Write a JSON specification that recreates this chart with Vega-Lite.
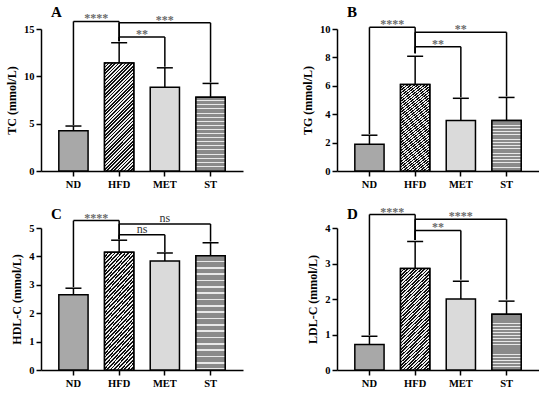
{
  "$schema": "https://vega.github.io/schema/vega-lite/v6.json",
  "padding": {"left": 5, "top": 5, "right": 0, "bottom": 0},
  "datasets": {
    "all": [
      {"panel": "A", "type": "bar", "group": "ND", "mean": 4.25, "err": 4.75},
      {"panel": "A", "type": "bar", "group": "HFD", "mean": 11.4, "err": 13.55},
      {"panel": "A", "type": "bar", "group": "MET", "mean": 8.85, "err": 10.9},
      {"panel": "A", "type": "bar", "group": "ST", "mean": 7.8, "err": 9.25},
      {"panel": "B", "type": "bar", "group": "ND", "mean": 1.88, "err": 2.52},
      {"panel": "B", "type": "bar", "group": "HFD", "mean": 6.1, "err": 8.08},
      {"panel": "B", "type": "bar", "group": "MET", "mean": 3.55, "err": 5.12},
      {"panel": "B", "type": "bar", "group": "ST", "mean": 3.55, "err": 5.18},
      {"panel": "C", "type": "bar", "group": "ND", "mean": 2.65, "err": 2.88},
      {"panel": "C", "type": "bar", "group": "HFD", "mean": 4.15, "err": 4.57},
      {"panel": "C", "type": "bar", "group": "MET", "mean": 3.84, "err": 4.12},
      {"panel": "C", "type": "bar", "group": "ST", "mean": 4.02, "err": 4.48},
      {"panel": "D", "type": "bar", "group": "ND", "mean": 0.72, "err": 0.95},
      {"panel": "D", "type": "bar", "group": "HFD", "mean": 2.86, "err": 3.62},
      {"panel": "D", "type": "bar", "group": "MET", "mean": 2.0, "err": 2.5},
      {"panel": "D", "type": "bar", "group": "ST", "mean": 1.57, "err": 1.94},
      {"panel": "A", "type": "br", "a": "ND", "b": "HFD", "mid": "ND", "pos": "gap", "h": 15.8, "ya": 4.85, "yb": 13.7, "label": "****", "kind": "star"},
      {"panel": "A", "type": "br", "a": "HFD", "b": "MET", "mid": "HFD", "pos": "gap", "h": 14.15, "ya": 13.7, "yb": 11.0, "label": "**", "kind": "star"},
      {"panel": "A", "type": "br", "a": "HFD", "b": "ST", "mid": "MET", "pos": "center", "h": 15.65, "ya": 13.7, "yb": 9.35, "label": "***", "kind": "star"},
      {"panel": "B", "type": "br", "a": "ND", "b": "HFD", "mid": "ND", "pos": "gap", "h": 10.12, "ya": 2.6, "yb": 8.3, "label": "****", "kind": "star"},
      {"panel": "B", "type": "br", "a": "HFD", "b": "MET", "mid": "HFD", "pos": "gap", "h": 8.75, "ya": 8.3, "yb": 5.2, "label": "**", "kind": "star"},
      {"panel": "B", "type": "br", "a": "HFD", "b": "ST", "mid": "MET", "pos": "center", "h": 9.77, "ya": 8.3, "yb": 5.25, "label": "**", "kind": "star"},
      {"panel": "C", "type": "br", "a": "ND", "b": "HFD", "mid": "ND", "pos": "gap", "h": 5.26, "ya": 2.92, "yb": 4.6, "label": "****", "kind": "star"},
      {"panel": "C", "type": "br", "a": "HFD", "b": "MET", "mid": "HFD", "pos": "gap", "h": 4.76, "ya": 4.6, "yb": 4.15, "label": "ns", "kind": "ns"},
      {"panel": "C", "type": "br", "a": "HFD", "b": "ST", "mid": "MET", "pos": "center", "h": 5.14, "ya": 4.6, "yb": 4.52, "label": "ns", "kind": "ns"},
      {"panel": "D", "type": "br", "a": "ND", "b": "HFD", "mid": "ND", "pos": "gap", "h": 4.38, "ya": 0.98, "yb": 3.66, "label": "****", "kind": "star"},
      {"panel": "D", "type": "br", "a": "HFD", "b": "MET", "mid": "HFD", "pos": "gap", "h": 3.93, "ya": 3.66, "yb": 2.54, "label": "**", "kind": "star"},
      {"panel": "D", "type": "br", "a": "HFD", "b": "ST", "mid": "MET", "pos": "center", "h": 4.25, "ya": 3.66, "yb": 1.98, "label": "****", "kind": "star"}
    ]
  },
  "columns": 2,
  "bounds": "flush",
  "spacing": {"row": 57, "column": 94},
  "concat": [
    {
      "width": 202, "height": 142,
      "title": {"text": "A", "dy": 10},
      "data": {"name": "all"},
      "transform": [{"filter": "datum.panel == 'A'"}],
      "layer": [
        {"transform": [{"filter": "datum.type == 'bar'"}], "mark": {"type": "bar", "stroke": "black", "strokeWidth": 1.5},
         "encoding": {"x": {"field": "group", "type": "nominal", "scale": {"domain": ["ND", "HFD", "MET", "ST"]}, "sort": null, "title": null},
                      "y": {"field": "mean", "type": "quantitative", "scale": {"domain": [0, 15], "nice": false}, "axis": {"values": [0, 5, 10, 15]}, "title": "TC (mmol/L)"},
                      "fill": {"field": "group", "type": "nominal", "scale": {"domain": ["ND", "HFD", "MET", "ST"], "range": ["#a8a8a8", "#7c7c7c", "#dadada", "#a0a0a0"]}, "legend": null}}},
        {"transform": [{"filter": "datum.type == 'bar' && datum.group == 'HFD'"}], "mark": {"type": "bar", "stroke": "black", "strokeWidth": 1.5},
         "encoding": {"x": {"field": "group", "type": "nominal", "title": null}, "y": {"field": "mean", "type": "quantitative", "axis": {"values": [0, 5, 10, 15]}, "title": "TC (mmol/L)"}}},
        {"transform": [{"filter": "datum.type == 'bar' && datum.group == 'ST'"}], "mark": {"type": "rect", "stroke": "black", "strokeWidth": 1.5},
         "encoding": {"x": {"field": "group", "type": "nominal", "title": null}, "y": {"field": "mean", "type": "quantitative", "axis": {"values": [0, 5, 10, 15]}, "title": "TC (mmol/L)"}, "y2": {"datum": 0}}},
        {"transform": [{"filter": "datum.type == 'bar'"}], "mark": {"type": "rule", "color": "black", "strokeWidth": 1.5},
         "encoding": {"x": {"field": "group", "type": "nominal", "title": null}, "y": {"field": "mean", "type": "quantitative", "axis": {"values": [0, 5, 10, 15]}, "title": "TC (mmol/L)"}, "y2": {"field": "err"}}},
        {"transform": [{"filter": "datum.type == 'bar'"}], "mark": {"type": "tick", "color": "black", "thickness": 1.5, "size": 16, "opacity": 1},
         "encoding": {"x": {"field": "group", "type": "nominal", "title": null}, "y": {"field": "err", "type": "quantitative", "axis": {"values": [0, 5, 10, 15]}, "title": "TC (mmol/L)"}}},
        {"transform": [{"filter": "datum.type == 'br'"}], "mark": {"type": "rule", "color": "black", "strokeWidth": 1.5},
         "encoding": {"x": {"field": "a", "type": "nominal", "title": null}, "y": {"field": "ya", "type": "quantitative", "axis": {"values": [0, 5, 10, 15]}, "title": "TC (mmol/L)"}, "y2": {"field": "h"}}},
        {"transform": [{"filter": "datum.type == 'br'"}], "mark": {"type": "rule", "color": "black", "strokeWidth": 1.5},
         "encoding": {"x": {"field": "b", "type": "nominal", "title": null}, "y": {"field": "yb", "type": "quantitative", "axis": {"values": [0, 5, 10, 15]}, "title": "TC (mmol/L)"}, "y2": {"field": "h"}}},
        {"transform": [{"filter": "datum.type == 'br'"}], "mark": {"type": "rule", "color": "black", "strokeWidth": 1.5},
         "encoding": {"x": {"field": "a", "type": "nominal", "title": null}, "x2": {"field": "b"}, "y": {"field": "h", "type": "quantitative", "axis": {"values": [0, 5, 10, 15]}, "title": "TC (mmol/L)"}}},
        {"transform": [{"filter": "datum.type == 'br' && datum.pos == 'gap' && datum.kind == 'star'"}], "mark": {"type": "text", "font": "Liberation Serif", "fontSize": 12, "fontWeight": "bold", "fill": "#6a6a6a", "baseline": "alphabetic", "dy": 1},
         "encoding": {"x": {"field": "mid", "type": "nominal", "bandPosition": 1.28125, "title": null}, "y": {"field": "h", "type": "quantitative", "axis": {"values": [0, 5, 10, 15]}, "title": "TC (mmol/L)"}, "text": {"field": "label"}}},
        {"transform": [{"filter": "datum.type == 'br' && datum.pos == 'center' && datum.kind == 'star'"}], "mark": {"type": "text", "font": "Liberation Serif", "fontSize": 12, "fontWeight": "bold", "fill": "#6a6a6a", "baseline": "alphabetic", "dy": 1},
         "encoding": {"x": {"field": "mid", "type": "nominal", "bandPosition": 0.5, "title": null}, "y": {"field": "h", "type": "quantitative", "axis": {"values": [0, 5, 10, 15]}, "title": "TC (mmol/L)"}, "text": {"field": "label"}}}
      ]
    },
    {
      "width": 202, "height": 142,
      "title": {"text": "B", "dy": 4},
      "data": {"name": "all"},
      "transform": [{"filter": "datum.panel == 'B'"}],
      "layer": [
        {"transform": [{"filter": "datum.type == 'bar'"}], "mark": {"type": "bar", "stroke": "black", "strokeWidth": 1.5},
         "encoding": {"x": {"field": "group", "type": "nominal", "scale": {"domain": ["ND", "HFD", "MET", "ST"]}, "sort": null, "title": null},
                      "y": {"field": "mean", "type": "quantitative", "scale": {"domain": [0, 10], "nice": false}, "axis": {"values": [0, 2, 4, 6, 8, 10]}, "title": "TG (mmol/L)"},
                      "fill": {"field": "group", "type": "nominal", "scale": {"domain": ["ND", "HFD", "MET", "ST"], "range": ["#a8a8a8", "#7c7c7c", "#dadada", "#a0a0a0"]}, "legend": null}}},
        {"transform": [{"filter": "datum.type == 'bar' && datum.group == 'HFD'"}], "mark": {"type": "bar", "stroke": "black", "strokeWidth": 1.5},
         "encoding": {"x": {"field": "group", "type": "nominal", "title": null}, "y": {"field": "mean", "type": "quantitative", "axis": {"values": [0, 2, 4, 6, 8, 10]}, "title": "TG (mmol/L)"}}},
        {"transform": [{"filter": "datum.type == 'bar' && datum.group == 'ST'"}], "mark": {"type": "rect", "stroke": "black", "strokeWidth": 1.5},
         "encoding": {"x": {"field": "group", "type": "nominal", "title": null}, "y": {"field": "mean", "type": "quantitative", "axis": {"values": [0, 2, 4, 6, 8, 10]}, "title": "TG (mmol/L)"}, "y2": {"datum": 0}}},
        {"transform": [{"filter": "datum.type == 'bar'"}], "mark": {"type": "rule", "color": "black", "strokeWidth": 1.5},
         "encoding": {"x": {"field": "group", "type": "nominal", "title": null}, "y": {"field": "mean", "type": "quantitative", "axis": {"values": [0, 2, 4, 6, 8, 10]}, "title": "TG (mmol/L)"}, "y2": {"field": "err"}}},
        {"transform": [{"filter": "datum.type == 'bar'"}], "mark": {"type": "tick", "color": "black", "thickness": 1.5, "size": 16, "opacity": 1},
         "encoding": {"x": {"field": "group", "type": "nominal", "title": null}, "y": {"field": "err", "type": "quantitative", "axis": {"values": [0, 2, 4, 6, 8, 10]}, "title": "TG (mmol/L)"}}},
        {"transform": [{"filter": "datum.type == 'br'"}], "mark": {"type": "rule", "color": "black", "strokeWidth": 1.5},
         "encoding": {"x": {"field": "a", "type": "nominal", "title": null}, "y": {"field": "ya", "type": "quantitative", "axis": {"values": [0, 2, 4, 6, 8, 10]}, "title": "TG (mmol/L)"}, "y2": {"field": "h"}}},
        {"transform": [{"filter": "datum.type == 'br'"}], "mark": {"type": "rule", "color": "black", "strokeWidth": 1.5},
         "encoding": {"x": {"field": "b", "type": "nominal", "title": null}, "y": {"field": "yb", "type": "quantitative", "axis": {"values": [0, 2, 4, 6, 8, 10]}, "title": "TG (mmol/L)"}, "y2": {"field": "h"}}},
        {"transform": [{"filter": "datum.type == 'br'"}], "mark": {"type": "rule", "color": "black", "strokeWidth": 1.5},
         "encoding": {"x": {"field": "a", "type": "nominal", "title": null}, "x2": {"field": "b"}, "y": {"field": "h", "type": "quantitative", "axis": {"values": [0, 2, 4, 6, 8, 10]}, "title": "TG (mmol/L)"}}},
        {"transform": [{"filter": "datum.type == 'br' && datum.pos == 'gap' && datum.kind == 'star'"}], "mark": {"type": "text", "font": "Liberation Serif", "fontSize": 12, "fontWeight": "bold", "fill": "#6a6a6a", "baseline": "alphabetic", "dy": 1},
         "encoding": {"x": {"field": "mid", "type": "nominal", "bandPosition": 1.28125, "title": null}, "y": {"field": "h", "type": "quantitative", "axis": {"values": [0, 2, 4, 6, 8, 10]}, "title": "TG (mmol/L)"}, "text": {"field": "label"}}},
        {"transform": [{"filter": "datum.type == 'br' && datum.pos == 'center' && datum.kind == 'star'"}], "mark": {"type": "text", "font": "Liberation Serif", "fontSize": 12, "fontWeight": "bold", "fill": "#6a6a6a", "baseline": "alphabetic", "dy": 1},
         "encoding": {"x": {"field": "mid", "type": "nominal", "bandPosition": 0.5, "title": null}, "y": {"field": "h", "type": "quantitative", "axis": {"values": [0, 2, 4, 6, 8, 10]}, "title": "TG (mmol/L)"}, "text": {"field": "label"}}}
      ]
    },
    {
      "width": 202, "height": 142,
      "title": {"text": "C", "dy": 12},
      "data": {"name": "all"},
      "transform": [{"filter": "datum.panel == 'C'"}],
      "layer": [
        {"transform": [{"filter": "datum.type == 'bar'"}], "mark": {"type": "bar", "stroke": "black", "strokeWidth": 1.5},
         "encoding": {"x": {"field": "group", "type": "nominal", "scale": {"domain": ["ND", "HFD", "MET", "ST"]}, "sort": null, "title": null},
                      "y": {"field": "mean", "type": "quantitative", "scale": {"domain": [0, 5], "nice": false}, "axis": {"values": [0, 1, 2, 3, 4, 5]}, "title": "HDL-C (mmol/L)"},
                      "fill": {"field": "group", "type": "nominal", "scale": {"domain": ["ND", "HFD", "MET", "ST"], "range": ["#a8a8a8", "#7c7c7c", "#dadada", "#a0a0a0"]}, "legend": null}}},
        {"transform": [{"filter": "datum.type == 'bar' && datum.group == 'HFD'"}], "mark": {"type": "bar", "stroke": "black", "strokeWidth": 1.5},
         "encoding": {"x": {"field": "group", "type": "nominal", "title": null}, "y": {"field": "mean", "type": "quantitative", "axis": {"values": [0, 1, 2, 3, 4, 5]}, "title": "HDL-C (mmol/L)"}}},
        {"transform": [{"filter": "datum.type == 'bar' && datum.group == 'ST'"}], "mark": {"type": "rect", "stroke": "black", "strokeWidth": 1.5},
         "encoding": {"x": {"field": "group", "type": "nominal", "title": null}, "y": {"field": "mean", "type": "quantitative", "axis": {"values": [0, 1, 2, 3, 4, 5]}, "title": "HDL-C (mmol/L)"}, "y2": {"datum": 0}}},
        {"transform": [{"filter": "datum.type == 'bar'"}], "mark": {"type": "rule", "color": "black", "strokeWidth": 1.5},
         "encoding": {"x": {"field": "group", "type": "nominal", "title": null}, "y": {"field": "mean", "type": "quantitative", "axis": {"values": [0, 1, 2, 3, 4, 5]}, "title": "HDL-C (mmol/L)"}, "y2": {"field": "err"}}},
        {"transform": [{"filter": "datum.type == 'bar'"}], "mark": {"type": "tick", "color": "black", "thickness": 1.5, "size": 16, "opacity": 1},
         "encoding": {"x": {"field": "group", "type": "nominal", "title": null}, "y": {"field": "err", "type": "quantitative", "axis": {"values": [0, 1, 2, 3, 4, 5]}, "title": "HDL-C (mmol/L)"}}},
        {"transform": [{"filter": "datum.type == 'br'"}], "mark": {"type": "rule", "color": "black", "strokeWidth": 1.5},
         "encoding": {"x": {"field": "a", "type": "nominal", "title": null}, "y": {"field": "ya", "type": "quantitative", "axis": {"values": [0, 1, 2, 3, 4, 5]}, "title": "HDL-C (mmol/L)"}, "y2": {"field": "h"}}},
        {"transform": [{"filter": "datum.type == 'br'"}], "mark": {"type": "rule", "color": "black", "strokeWidth": 1.5},
         "encoding": {"x": {"field": "b", "type": "nominal", "title": null}, "y": {"field": "yb", "type": "quantitative", "axis": {"values": [0, 1, 2, 3, 4, 5]}, "title": "HDL-C (mmol/L)"}, "y2": {"field": "h"}}},
        {"transform": [{"filter": "datum.type == 'br'"}], "mark": {"type": "rule", "color": "black", "strokeWidth": 1.5},
         "encoding": {"x": {"field": "a", "type": "nominal", "title": null}, "x2": {"field": "b"}, "y": {"field": "h", "type": "quantitative", "axis": {"values": [0, 1, 2, 3, 4, 5]}, "title": "HDL-C (mmol/L)"}}},
        {"transform": [{"filter": "datum.type == 'br' && datum.pos == 'gap' && datum.kind == 'star'"}], "mark": {"type": "text", "font": "Liberation Serif", "fontSize": 12, "fontWeight": "bold", "fill": "#6a6a6a", "baseline": "alphabetic", "dy": 1},
         "encoding": {"x": {"field": "mid", "type": "nominal", "bandPosition": 1.28125, "title": null}, "y": {"field": "h", "type": "quantitative", "axis": {"values": [0, 1, 2, 3, 4, 5]}, "title": "HDL-C (mmol/L)"}, "text": {"field": "label"}}},
        {"transform": [{"filter": "datum.type == 'br' && datum.pos == 'gap' && datum.kind == 'ns'"}], "mark": {"type": "text", "font": "Liberation Serif", "fontSize": 12, "fill": "#333333", "baseline": "alphabetic", "dy": -2},
         "encoding": {"x": {"field": "mid", "type": "nominal", "bandPosition": 1.28125, "title": null}, "y": {"field": "h", "type": "quantitative", "axis": {"values": [0, 1, 2, 3, 4, 5]}, "title": "HDL-C (mmol/L)"}, "text": {"field": "label"}}},
        {"transform": [{"filter": "datum.type == 'br' && datum.pos == 'center' && datum.kind == 'ns'"}], "mark": {"type": "text", "font": "Liberation Serif", "fontSize": 12, "fill": "#333333", "baseline": "alphabetic", "dy": -2},
         "encoding": {"x": {"field": "mid", "type": "nominal", "bandPosition": 0.5, "title": null}, "y": {"field": "h", "type": "quantitative", "axis": {"values": [0, 1, 2, 3, 4, 5]}, "title": "HDL-C (mmol/L)"}, "text": {"field": "label"}}}
      ]
    },
    {
      "width": 202, "height": 142,
      "title": {"text": "D", "dy": 18},
      "data": {"name": "all"},
      "transform": [{"filter": "datum.panel == 'D'"}],
      "layer": [
        {"transform": [{"filter": "datum.type == 'bar'"}], "mark": {"type": "bar", "stroke": "black", "strokeWidth": 1.5},
         "encoding": {"x": {"field": "group", "type": "nominal", "scale": {"domain": ["ND", "HFD", "MET", "ST"]}, "sort": null, "title": null},
                      "y": {"field": "mean", "type": "quantitative", "scale": {"domain": [0, 4], "nice": false}, "axis": {"values": [0, 1, 2, 3, 4]}, "title": "LDL-C (mmol/L)"},
                      "fill": {"field": "group", "type": "nominal", "scale": {"domain": ["ND", "HFD", "MET", "ST"], "range": ["#a8a8a8", "#7c7c7c", "#dadada", "#a0a0a0"]}, "legend": null}}},
        {"transform": [{"filter": "datum.type == 'bar' && datum.group == 'HFD'"}], "mark": {"type": "bar", "stroke": "black", "strokeWidth": 1.5},
         "encoding": {"x": {"field": "group", "type": "nominal", "title": null}, "y": {"field": "mean", "type": "quantitative", "axis": {"values": [0, 1, 2, 3, 4]}, "title": "LDL-C (mmol/L)"}}},
        {"transform": [{"filter": "datum.type == 'bar' && datum.group == 'ST'"}], "mark": {"type": "rect", "stroke": "black", "strokeWidth": 1.5},
         "encoding": {"x": {"field": "group", "type": "nominal", "title": null}, "y": {"field": "mean", "type": "quantitative", "axis": {"values": [0, 1, 2, 3, 4]}, "title": "LDL-C (mmol/L)"}, "y2": {"datum": 0}}},
        {"transform": [{"filter": "datum.type == 'bar'"}], "mark": {"type": "rule", "color": "black", "strokeWidth": 1.5},
         "encoding": {"x": {"field": "group", "type": "nominal", "title": null}, "y": {"field": "mean", "type": "quantitative", "axis": {"values": [0, 1, 2, 3, 4]}, "title": "LDL-C (mmol/L)"}, "y2": {"field": "err"}}},
        {"transform": [{"filter": "datum.type == 'bar'"}], "mark": {"type": "tick", "color": "black", "thickness": 1.5, "size": 16, "opacity": 1},
         "encoding": {"x": {"field": "group", "type": "nominal", "title": null}, "y": {"field": "err", "type": "quantitative", "axis": {"values": [0, 1, 2, 3, 4]}, "title": "LDL-C (mmol/L)"}}},
        {"transform": [{"filter": "datum.type == 'br'"}], "mark": {"type": "rule", "color": "black", "strokeWidth": 1.5},
         "encoding": {"x": {"field": "a", "type": "nominal", "title": null}, "y": {"field": "ya", "type": "quantitative", "axis": {"values": [0, 1, 2, 3, 4]}, "title": "LDL-C (mmol/L)"}, "y2": {"field": "h"}}},
        {"transform": [{"filter": "datum.type == 'br'"}], "mark": {"type": "rule", "color": "black", "strokeWidth": 1.5},
         "encoding": {"x": {"field": "b", "type": "nominal", "title": null}, "y": {"field": "yb", "type": "quantitative", "axis": {"values": [0, 1, 2, 3, 4]}, "title": "LDL-C (mmol/L)"}, "y2": {"field": "h"}}},
        {"transform": [{"filter": "datum.type == 'br'"}], "mark": {"type": "rule", "color": "black", "strokeWidth": 1.5},
         "encoding": {"x": {"field": "a", "type": "nominal", "title": null}, "x2": {"field": "b"}, "y": {"field": "h", "type": "quantitative", "axis": {"values": [0, 1, 2, 3, 4]}, "title": "LDL-C (mmol/L)"}}},
        {"transform": [{"filter": "datum.type == 'br' && datum.pos == 'gap' && datum.kind == 'star'"}], "mark": {"type": "text", "font": "Liberation Serif", "fontSize": 12, "fontWeight": "bold", "fill": "#6a6a6a", "baseline": "alphabetic", "dy": 1},
         "encoding": {"x": {"field": "mid", "type": "nominal", "bandPosition": 1.28125, "title": null}, "y": {"field": "h", "type": "quantitative", "axis": {"values": [0, 1, 2, 3, 4]}, "title": "LDL-C (mmol/L)"}, "text": {"field": "label"}}},
        {"transform": [{"filter": "datum.type == 'br' && datum.pos == 'center' && datum.kind == 'star'"}], "mark": {"type": "text", "font": "Liberation Serif", "fontSize": 12, "fontWeight": "bold", "fill": "#6a6a6a", "baseline": "alphabetic", "dy": 1},
         "encoding": {"x": {"field": "mid", "type": "nominal", "bandPosition": 0.5, "title": null}, "y": {"field": "h", "type": "quantitative", "axis": {"values": [0, 1, 2, 3, 4]}, "title": "LDL-C (mmol/L)"}, "text": {"field": "label"}}}
      ]
    }
  ],
  "config": {
    "view": {"stroke": null},
    "font": "Liberation Serif",
    "scale": {"bandPaddingInner": 0.36, "bandPaddingOuter": 0.39},
    "axis": {"grid": false, "domainColor": "black", "domainWidth": 1.5, "tickColor": "black", "tickWidth": 1.5, "tickSize": 5,
             "labelFont": "Liberation Serif", "labelFontWeight": "bold", "labelFontSize": 10.5, "labelColor": "black", "labelPadding": 2,
             "titleFont": "Liberation Serif", "titleFontWeight": "bold", "titleFontSize": 12, "titleColor": "black", "titlePadding": 5},
    "axisX": {"labelAngle": 0, "labelPadding": 3},
    "axisY": {"labelOverlap": false},
    "title": {"anchor": "start", "frame": "group", "font": "Liberation Serif", "fontSize": 15, "fontWeight": "bold", "color": "black", "dx": 10, "offset": 2},
    "rect": {
      "fill": {
        "gradient": "linear", "x1": 0, "y1": 0, "x2": 0, "y2": 1,
        "stops": [
          {"offset": 0, "color": "#8a8a8a"}, {"offset": 0.04167, "color": "#8a8a8a"}, {"offset": 0.04167, "color": "#e8e8e8"}, {"offset": 0.05556, "color": "#e8e8e8"},
          {"offset": 0.05556, "color": "#8a8a8a"}, {"offset": 0.09722, "color": "#8a8a8a"}, {"offset": 0.09722, "color": "#e8e8e8"}, {"offset": 0.11111, "color": "#e8e8e8"},
          {"offset": 0.11111, "color": "#8a8a8a"}, {"offset": 0.15278, "color": "#8a8a8a"}, {"offset": 0.15278, "color": "#e8e8e8"}, {"offset": 0.16667, "color": "#e8e8e8"},
          {"offset": 0.16667, "color": "#8a8a8a"}, {"offset": 0.20833, "color": "#8a8a8a"}, {"offset": 0.20833, "color": "#e8e8e8"}, {"offset": 0.22222, "color": "#e8e8e8"},
          {"offset": 0.22222, "color": "#8a8a8a"}, {"offset": 0.26389, "color": "#8a8a8a"}, {"offset": 0.26389, "color": "#e8e8e8"}, {"offset": 0.27778, "color": "#e8e8e8"},
          {"offset": 0.27778, "color": "#8a8a8a"}, {"offset": 0.31944, "color": "#8a8a8a"}, {"offset": 0.31944, "color": "#e8e8e8"}, {"offset": 0.33333, "color": "#e8e8e8"},
          {"offset": 0.33333, "color": "#8a8a8a"}, {"offset": 0.375, "color": "#8a8a8a"}, {"offset": 0.375, "color": "#e8e8e8"}, {"offset": 0.38889, "color": "#e8e8e8"},
          {"offset": 0.38889, "color": "#8a8a8a"}, {"offset": 0.43056, "color": "#8a8a8a"}, {"offset": 0.43056, "color": "#e8e8e8"}, {"offset": 0.44444, "color": "#e8e8e8"},
          {"offset": 0.44444, "color": "#8a8a8a"}, {"offset": 0.48611, "color": "#8a8a8a"}, {"offset": 0.48611, "color": "#e8e8e8"}, {"offset": 0.5, "color": "#e8e8e8"},
          {"offset": 0.5, "color": "#8a8a8a"}, {"offset": 0.54167, "color": "#8a8a8a"}, {"offset": 0.54167, "color": "#e8e8e8"}, {"offset": 0.55556, "color": "#e8e8e8"},
          {"offset": 0.55556, "color": "#8a8a8a"}, {"offset": 0.59722, "color": "#8a8a8a"}, {"offset": 0.59722, "color": "#e8e8e8"}, {"offset": 0.61111, "color": "#e8e8e8"},
          {"offset": 0.61111, "color": "#8a8a8a"}, {"offset": 0.65278, "color": "#8a8a8a"}, {"offset": 0.65278, "color": "#e8e8e8"}, {"offset": 0.66667, "color": "#e8e8e8"},
          {"offset": 0.66667, "color": "#8a8a8a"}, {"offset": 0.70833, "color": "#8a8a8a"}, {"offset": 0.70833, "color": "#e8e8e8"}, {"offset": 0.72222, "color": "#e8e8e8"},
          {"offset": 0.72222, "color": "#8a8a8a"}, {"offset": 0.76389, "color": "#8a8a8a"}, {"offset": 0.76389, "color": "#e8e8e8"}, {"offset": 0.77778, "color": "#e8e8e8"},
          {"offset": 0.77778, "color": "#8a8a8a"}, {"offset": 0.81944, "color": "#8a8a8a"}, {"offset": 0.81944, "color": "#e8e8e8"}, {"offset": 0.83333, "color": "#e8e8e8"},
          {"offset": 0.83333, "color": "#8a8a8a"}, {"offset": 0.875, "color": "#8a8a8a"}, {"offset": 0.875, "color": "#e8e8e8"}, {"offset": 0.88889, "color": "#e8e8e8"},
          {"offset": 0.88889, "color": "#8a8a8a"}, {"offset": 0.93056, "color": "#8a8a8a"}, {"offset": 0.93056, "color": "#e8e8e8"}, {"offset": 0.94444, "color": "#e8e8e8"},
          {"offset": 0.94444, "color": "#8a8a8a"}, {"offset": 0.98611, "color": "#8a8a8a"}, {"offset": 0.98611, "color": "#e8e8e8"}, {"offset": 1, "color": "#e8e8e8"}
        ]
      }
    },
    "bar": {
      "fill": {
          "gradient": "linear", "x1": 0, "y1": 0, "x2": 0.32, "y2": 1.18,
          "stops": [
            {"offset": 0, "color": "#111"}, {"offset": 0.0125, "color": "#111"}, {"offset": 0.0125, "color": "#eee"}, {"offset": 0.025, "color": "#eee"},
            {"offset": 0.025, "color": "#111"}, {"offset": 0.0375, "color": "#111"}, {"offset": 0.0375, "color": "#eee"}, {"offset": 0.05, "color": "#eee"},
            {"offset": 0.05, "color": "#111"}, {"offset": 0.0625, "color": "#111"}, {"offset": 0.0625, "color": "#eee"}, {"offset": 0.075, "color": "#eee"},
            {"offset": 0.075, "color": "#111"}, {"offset": 0.0875, "color": "#111"}, {"offset": 0.0875, "color": "#eee"}, {"offset": 0.1, "color": "#eee"},
            {"offset": 0.1, "color": "#111"}, {"offset": 0.1125, "color": "#111"}, {"offset": 0.1125, "color": "#eee"}, {"offset": 0.125, "color": "#eee"},
            {"offset": 0.125, "color": "#111"}, {"offset": 0.1375, "color": "#111"}, {"offset": 0.1375, "color": "#eee"}, {"offset": 0.15, "color": "#eee"},
            {"offset": 0.15, "color": "#111"}, {"offset": 0.1625, "color": "#111"}, {"offset": 0.1625, "color": "#eee"}, {"offset": 0.175, "color": "#eee"},
            {"offset": 0.175, "color": "#111"}, {"offset": 0.1875, "color": "#111"}, {"offset": 0.1875, "color": "#eee"}, {"offset": 0.2, "color": "#eee"},
            {"offset": 0.2, "color": "#111"}, {"offset": 0.2125, "color": "#111"}, {"offset": 0.2125, "color": "#eee"}, {"offset": 0.225, "color": "#eee"},
            {"offset": 0.225, "color": "#111"}, {"offset": 0.2375, "color": "#111"}, {"offset": 0.2375, "color": "#eee"}, {"offset": 0.25, "color": "#eee"},
            {"offset": 0.25, "color": "#111"}, {"offset": 0.2625, "color": "#111"}, {"offset": 0.2625, "color": "#eee"}, {"offset": 0.275, "color": "#eee"},
            {"offset": 0.275, "color": "#111"}, {"offset": 0.2875, "color": "#111"}, {"offset": 0.2875, "color": "#eee"}, {"offset": 0.3, "color": "#eee"},
            {"offset": 0.3, "color": "#111"}, {"offset": 0.3125, "color": "#111"}, {"offset": 0.3125, "color": "#eee"}, {"offset": 0.325, "color": "#eee"},
            {"offset": 0.325, "color": "#111"}, {"offset": 0.3375, "color": "#111"}, {"offset": 0.3375, "color": "#eee"}, {"offset": 0.35, "color": "#eee"},
            {"offset": 0.35, "color": "#111"}, {"offset": 0.3625, "color": "#111"}, {"offset": 0.3625, "color": "#eee"}, {"offset": 0.375, "color": "#eee"},
            {"offset": 0.375, "color": "#111"}, {"offset": 0.3875, "color": "#111"}, {"offset": 0.3875, "color": "#eee"}, {"offset": 0.4, "color": "#eee"},
            {"offset": 0.4, "color": "#111"}, {"offset": 0.4125, "color": "#111"}, {"offset": 0.4125, "color": "#eee"}, {"offset": 0.425, "color": "#eee"},
            {"offset": 0.425, "color": "#111"}, {"offset": 0.4375, "color": "#111"}, {"offset": 0.4375, "color": "#eee"}, {"offset": 0.45, "color": "#eee"},
            {"offset": 0.45, "color": "#111"}, {"offset": 0.4625, "color": "#111"}, {"offset": 0.4625, "color": "#eee"}, {"offset": 0.475, "color": "#eee"},
            {"offset": 0.475, "color": "#111"}, {"offset": 0.4875, "color": "#111"}, {"offset": 0.4875, "color": "#eee"}, {"offset": 0.5, "color": "#eee"},
            {"offset": 0.5, "color": "#111"}, {"offset": 0.5125, "color": "#111"}, {"offset": 0.5125, "color": "#eee"}, {"offset": 0.525, "color": "#eee"},
            {"offset": 0.525, "color": "#111"}, {"offset": 0.5375, "color": "#111"}, {"offset": 0.5375, "color": "#eee"}, {"offset": 0.55, "color": "#eee"},
            {"offset": 0.55, "color": "#111"}, {"offset": 0.5625, "color": "#111"}, {"offset": 0.5625, "color": "#eee"}, {"offset": 0.575, "color": "#eee"},
            {"offset": 0.575, "color": "#111"}, {"offset": 0.5875, "color": "#111"}, {"offset": 0.5875, "color": "#eee"}, {"offset": 0.6, "color": "#eee"},
            {"offset": 0.6, "color": "#111"}, {"offset": 0.6125, "color": "#111"}, {"offset": 0.6125, "color": "#eee"}, {"offset": 0.625, "color": "#eee"},
            {"offset": 0.625, "color": "#111"}, {"offset": 0.6375, "color": "#111"}, {"offset": 0.6375, "color": "#eee"}, {"offset": 0.65, "color": "#eee"},
            {"offset": 0.65, "color": "#111"}, {"offset": 0.6625, "color": "#111"}, {"offset": 0.6625, "color": "#eee"}, {"offset": 0.675, "color": "#eee"},
            {"offset": 0.675, "color": "#111"}, {"offset": 0.6875, "color": "#111"}, {"offset": 0.6875, "color": "#eee"}, {"offset": 0.7, "color": "#eee"},
            {"offset": 0.7, "color": "#111"}, {"offset": 0.7125, "color": "#111"}, {"offset": 0.7125, "color": "#eee"}, {"offset": 0.725, "color": "#eee"},
            {"offset": 0.725, "color": "#111"}, {"offset": 0.7375, "color": "#111"}, {"offset": 0.7375, "color": "#eee"}, {"offset": 0.75, "color": "#eee"},
            {"offset": 0.75, "color": "#111"}, {"offset": 0.7625, "color": "#111"}, {"offset": 0.7625, "color": "#eee"}, {"offset": 0.775, "color": "#eee"},
            {"offset": 0.775, "color": "#111"}, {"offset": 0.7875, "color": "#111"}, {"offset": 0.7875, "color": "#eee"}, {"offset": 0.8, "color": "#eee"},
            {"offset": 0.8, "color": "#111"}, {"offset": 0.8125, "color": "#111"}, {"offset": 0.8125, "color": "#eee"}, {"offset": 0.825, "color": "#eee"},
            {"offset": 0.825, "color": "#111"}, {"offset": 0.8375, "color": "#111"}, {"offset": 0.8375, "color": "#eee"}, {"offset": 0.85, "color": "#eee"},
            {"offset": 0.85, "color": "#111"}, {"offset": 0.8625, "color": "#111"}, {"offset": 0.8625, "color": "#eee"}, {"offset": 0.875, "color": "#eee"},
            {"offset": 0.875, "color": "#111"}, {"offset": 0.8875, "color": "#111"}, {"offset": 0.8875, "color": "#eee"}, {"offset": 0.9, "color": "#eee"},
            {"offset": 0.9, "color": "#111"}, {"offset": 0.9125, "color": "#111"}, {"offset": 0.9125, "color": "#eee"}, {"offset": 0.925, "color": "#eee"},
            {"offset": 0.925, "color": "#111"}, {"offset": 0.9375, "color": "#111"}, {"offset": 0.9375, "color": "#eee"}, {"offset": 0.95, "color": "#eee"},
            {"offset": 0.95, "color": "#111"}, {"offset": 0.9625, "color": "#111"}, {"offset": 0.9625, "color": "#eee"}, {"offset": 0.975, "color": "#eee"},
            {"offset": 0.975, "color": "#111"}, {"offset": 0.9875, "color": "#111"}, {"offset": 0.9875, "color": "#eee"}, {"offset": 1, "color": "#eee"}
          ]
      }
    }
  }
}
